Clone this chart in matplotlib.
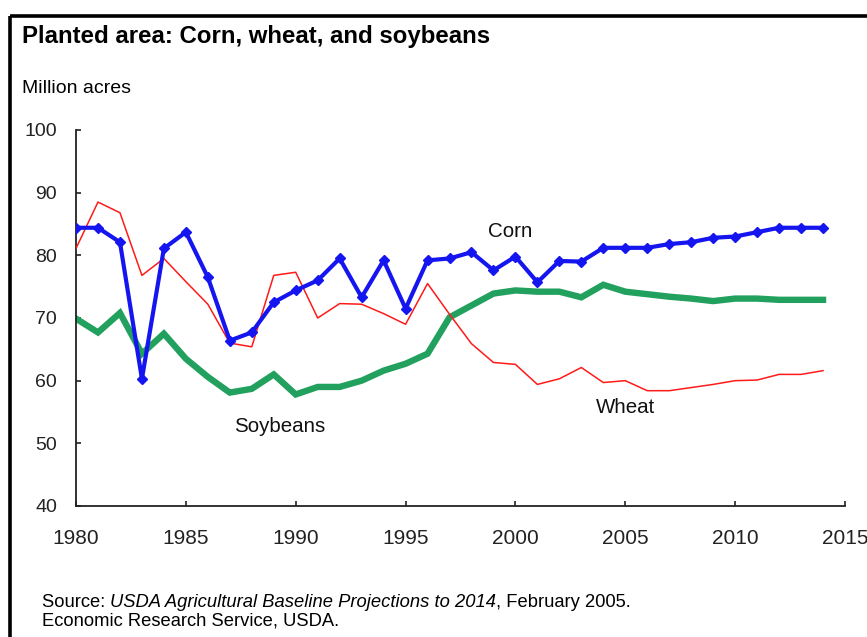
import matplotlib
matplotlib.use("Agg")
import matplotlib.pyplot as plt
from matplotlib.lines import Line2D

plt.rcParams['font.family'] = ['Liberation Sans', 'DejaVu Sans']

years = list(range(1980, 2015))
corn = [84.4, 84.4, 82.1, 60.3, 81.1, 83.7, 76.5, 66.4, 67.7, 72.5,
        74.4, 76.0, 79.5, 73.3, 79.2, 71.5, 79.2, 79.5, 80.5, 77.6,
        79.8, 75.7, 79.1, 79.0, 81.2, 81.2, 81.2, 81.8, 82.1, 82.8,
        83.0, 83.7, 84.4, 84.4, 84.4]
wheat = [81.1, 88.5, 86.8, 76.8, 79.5, 75.8, 72.2, 66.0, 65.4, 76.8,
         77.3, 70.0, 72.3, 72.2, 70.7, 69.0, 75.5, 70.6, 65.9, 62.9,
         62.6, 59.4, 60.3, 62.1, 59.7, 60.0, 58.4, 58.4, 58.9, 59.4,
         60.0, 60.1, 61.0, 61.0, 61.6]
soybeans = [69.9, 67.7, 70.8, 64.3, 67.5, 63.5, 60.6, 58.1, 58.7, 61.0,
            57.8, 59.0, 59.0, 60.0, 61.6, 62.7, 64.3, 70.1, 72.0, 73.9,
            74.4, 74.2, 74.2, 73.3, 75.3, 74.2, 73.8, 73.4, 73.1, 72.7,
            73.1, 73.1, 72.9, 72.9, 72.9]

x_ticks = [1980, 1985, 1990, 1995, 2000, 2005, 2010, 2015]
y_ticks = [40, 50, 60, 70, 80, 90, 100]

title = "Planted area: Corn, wheat, and soybeans"
unit_label = "Million acres"

W, H = 867, 637
fig = plt.figure(figsize=(W / 100, H / 100), dpi=100)
fig.patch.set_facecolor('white')

ax = fig.add_axes([76 / W, 1 - 506 / H, (845 - 76) / W, (506 - 130) / H])
ax.set_facecolor('white')

ax.plot(years, soybeans, color='#22A05E', lw=4.6, solid_joinstyle='miter', zorder=2)
ax.plot(years, wheat, color='#FF1A1A', lw=1.1, zorder=3)
ax.plot(years, corn, color='#1515F0', lw=3.0, marker='D', markersize=5.5,
        markerfacecolor='#1515F0', markeredgecolor='#1515F0', zorder=4)

ax.set_xlim(1980, 2015)
ax.set_ylim(40, 100)
ax.set_xticks(x_ticks)
ax.set_yticks(y_ticks)
ax.spines['top'].set_visible(False)
ax.spines['right'].set_visible(False)
for s in ('left', 'bottom'):
    ax.spines[s].set_linewidth(1.3)
    ax.spines[s].set_color('#222222')
ax.tick_params(axis='y', direction='in', length=3.5, width=1.2, pad=13.5,
               labelsize=14, colors='#222222')
ax.tick_params(axis='x', direction='in', length=3.5, width=1.2, pad=16.5,
               labelsize=15, colors='#222222')

ax.text(1999.75, 82.9, "Corn", fontsize=14.8, ha='center', va='baseline', color='#111111')
ax.text(2005.0, 54.9, "Wheat", fontsize=14.8, ha='center', va='baseline', color='#111111')
ax.text(1989.27, 51.8, "Soybeans", fontsize=14.8, ha='center', va='baseline', color='#111111')

fig.text(22 / W, 1 - 43 / H, title, fontsize=17.3, fontweight='bold', va='baseline', ha='left')
fig.text(22 / W, 1 - 92.7 / H, unit_label, fontsize=14, va='baseline', ha='left')

fs_src = 13.2
t1 = fig.text(42 / W, 1 - 606.7 / H, "Source: ", fontsize=fs_src, va='baseline', ha='left')
a2 = ax.annotate("USDA Agricultural Baseline Projections to 2014", xy=(1, 0),
                 xycoords=t1, va='bottom', ha='left', fontsize=fs_src, style='italic',
                 annotation_clip=False)
a3 = ax.annotate(", February 2005.", xy=(1, 0), xycoords=a2, va='bottom', ha='left',
                 fontsize=fs_src, annotation_clip=False)
fig.text(42 / W, 1 - 625.5 / H, "Economic Research Service, USDA.", fontsize=fs_src,
         va='baseline', ha='left')

# outer frame (top and left edges)
fig.add_artist(Line2D([9.5 / W, 1.0], [1 - 16 / H, 1 - 16 / H], transform=fig.transFigure,
                      color='black', lw=2.6, solid_capstyle='butt'))
fig.add_artist(Line2D([9.5 / W, 9.5 / W], [1 - 16 / H, 0], transform=fig.transFigure,
                      color='black', lw=2.6, solid_capstyle='butt'))

fig.savefig("out.png", dpi=100, facecolor='white')
